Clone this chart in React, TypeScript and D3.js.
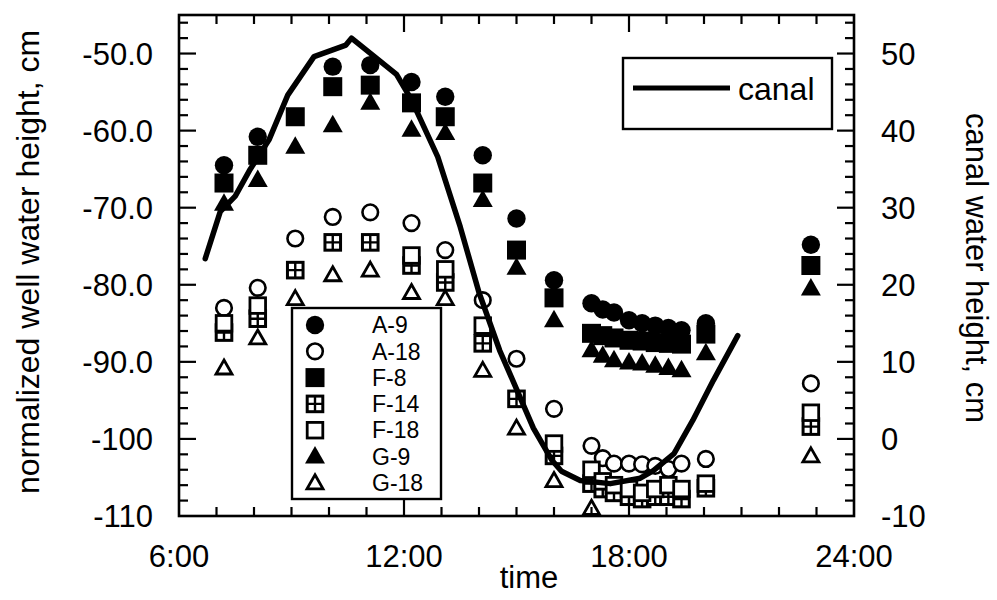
import React from "react";
import * as d3 from "d3";

// observation times (hours)
const hours = [7.2, 8.1, 9.1, 10.1, 11.1, 12.2, 13.1, 14.1, 15.0, 16.0, 17.0, 17.3, 17.6, 18.0, 18.35, 18.7, 19.05, 19.4, 20.05, 22.85];

// normalized well water height, cm (null = not visible)
const a9 = [-64.5, -60.8, null, -51.7, -51.5, -53.7, -55.6, -63.2, -71.4, -79.4, -82.4, -83.2, -83.6, -84.6, -85.0, -85.3, -85.6, -85.9, -85.0, -74.8];
const a18 = [-83.0, -80.4, -74.0, -71.2, -70.6, -72.0, -75.5, -82.0, -89.6, -96.1, -100.9, -102.5, -103.2, -103.2, -103.3, -103.5, -103.9, -103.2, -102.6, -92.8];
const f8 = [-66.8, -63.2, -58.2, -54.3, -54.1, -56.4, -58.2, -66.8, -75.5, -81.7, -86.3, -86.6, -86.9, -87.2, -87.3, -87.5, -87.6, -87.7, -86.4, -77.5];
const f14 = [-86.2, -84.4, -78.1, -74.5, -74.5, -77.5, -79.7, -87.6, -94.8, -102.2, -105.8, -106.5, -107.0, -107.5, -107.8, -107.5, -107.5, -107.8, -106.4, -98.4];
const f18 = [-85.0, -82.7, null, null, null, -76.2, -78.0, -85.3, null, -100.6, -104.0, -105.5, -106.0, -106.5, -107.0, -106.5, -106.0, -106.5, -105.8, -96.6];
const g9 = [-69.5, -66.4, -62.1, -59.3, -56.4, -59.9, -60.3, -69.0, -77.8, -84.6, -88.5, -89.2, -89.8, -90.1, -90.2, -90.5, -90.8, -91.1, -88.9, -80.5];
const g18 = [-90.8, -86.9, -81.8, -78.7, -78.1, -81.0, -81.8, -91.1, -98.6, -105.4, -109.0, null, null, null, null, null, null, null, null, -102.2];

// canal water height, cm
const canalHours = [6.7, 7.1, 7.5, 7.9, 8.4, 8.9, 9.6, 10.45, 10.6, 11.8, 12.2, 12.9, 13.5, 14.0, 14.55, 14.9, 15.45, 15.95, 16.2, 16.7, 17.5, 18.3, 18.65, 19.2, 19.7, 20.25, 20.9];
const canalLevels = [23.4, 29.5, 31.5, 35.0, 38.8, 44.6, 49.6, 51.1, 52.0, 47.3, 44.0, 36.6, 27.5, 19.0, 11.5, 7.6, 1.4, -2.8, -4.2, -5.4, -5.8, -5.1, -4.1, -1.9, 2.4, 7.6, 13.4];

// tick labels
const xTickHours = [6, 12, 18, 24];
const xTickLabels = ["6:00", "12:00", "18:00", "24:00"];
const leftTicks = [-50, -60, -70, -80, -90, -100, -110];
const leftTickLabels = ["-50.0", "-60.0", "-70.0", "-80.0", "-90.0", "-100", "-110"];
const rightTicks = [50, 40, 30, 20, 10, 0, -10];

const series = [
  { name: "A-9", shape: "circle", fill: true, values: a9 },
  { name: "A-18", shape: "circle", fill: false, values: a18 },
  { name: "F-8", shape: "square", fill: true, values: f8 },
  { name: "F-14", shape: "grid", fill: false, values: f14 },
  { name: "F-18", shape: "square", fill: false, values: f18 },
  { name: "G-9", shape: "triangle", fill: true, values: g9 },
  { name: "G-18", shape: "triangle", fill: false, values: g18 },
];

const W = 997;
const H = 600;
const left = 179, right = 854, top = 15, bottom = 516;
const FONT = "'Liberation Sans', Arial, Helvetica, sans-serif";

const x = d3.scaleLinear().domain([6, 24]).range([left, right]);
const yWell = d3.scaleLinear().domain([-110, -45]).range([bottom, top]);
const yCanal = d3.scaleLinear().domain([-10, 55]).range([bottom, top]);

function Marker({ shape, fill, cx, cy }: { shape: string; fill: boolean; cx: number; cy: number }) {
  const t = `translate(${cx},${cy})`;
  if (shape === "circle") {
    return fill
      ? <circle transform={t} r={9.2} fill="#000" />
      : <circle transform={t} r={7.8} fill="#fff" stroke="#000" strokeWidth={2.6} />;
  }
  if (shape === "square") {
    return fill
      ? <rect transform={t} x={-9.5} y={-9.5} width={19} height={19} fill="#000" />
      : <rect transform={t} x={-7.8} y={-7.8} width={15.6} height={15.6} fill="#fff" stroke="#000" strokeWidth={2.8} />;
  }
  if (shape === "grid") {
    return (
      <g transform={t}>
        <rect x={-7.8} y={-7.8} width={15.6} height={15.6} fill="#fff" stroke="#000" strokeWidth={3} />
        <path d="M0,-8V8M-8,0H8" stroke="#000" strokeWidth={2.4} />
      </g>
    );
  }
  return fill
    ? <path transform={t} d="M0,-10.5L10,7L-10,7Z" fill="#000" />
    : <path transform={t} d="M0,-8L8,6L-8,6Z" fill="#fff" stroke="#000" strokeWidth={2.8} strokeLinejoin="miter" />;
}

export default function App() {
  const canalLine = d3.line<number>()
    .x((_, i) => x(canalHours[i]))
    .y((d) => yCanal(d))(canalLevels) || "";

  const hourTicks = d3.range(7, 24);
  const wellMinor = d3.range(-108, -44, 2);
  const canalMinor = d3.range(-8, 56, 2);

  return (
    <svg width={W} height={H} style={{ position: "absolute", left: 0, top: 0, background: "#fff" }} fontFamily={FONT}>
      <rect width={W} height={H} fill="#fff" />

      {/* markers */}
      {series.map((s) => (
        <g key={s.name}>
          {s.values.map((v, i) =>
            v === null ? null : <Marker key={i} shape={s.shape} fill={s.fill} cx={x(hours[i])} cy={yWell(v)} />
          )}
        </g>
      ))}

      {/* canal */}
      <path d={canalLine} fill="none" stroke="#000" strokeWidth={5.5} strokeLinejoin="round" strokeLinecap="round" />

      {/* frame and ticks */}
      <rect x={left} y={top} width={right - left} height={bottom - top} fill="none" stroke="#000" strokeWidth={2.6} />
      <g stroke="#000" strokeWidth={2.2}>
        {hourTicks.map((h) => {
          const len = h % 6 === 0 ? 17 : 9;
          return (
            <g key={h}>
              <line x1={x(h)} x2={x(h)} y1={bottom} y2={bottom - len} />
              <line x1={x(h)} x2={x(h)} y1={top} y2={top + len} />
            </g>
          );
        })}
        {wellMinor.map((v) => (
          <line key={v} x1={left} x2={left + (v % 10 === 0 ? 17 : 9)} y1={yWell(v)} y2={yWell(v)} />
        ))}
        {canalMinor.map((v) => (
          <line key={v} x1={right} x2={right - (v % 10 === 0 ? 17 : 9)} y1={yCanal(v)} y2={yCanal(v)} />
        ))}
      </g>

      {/* tick labels */}
      <g fontSize={31} fill="#000">
        {xTickHours.map((h, i) => (
          <text key={h} x={x(h)} y={567} textAnchor="middle">{xTickLabels[i]}</text>
        ))}
        {leftTicks.map((v, i) => (
          <text key={v} x={153} y={yWell(v)} dy="0.36em" textAnchor="end">{leftTickLabels[i]}</text>
        ))}
        {rightTicks.map((v) => (
          <text key={v} x={881} y={yCanal(v)} dy="0.36em" textAnchor="start">{v}</text>
        ))}
      </g>

      {/* axis titles */}
      <text x={529} y={588} fontSize={31} textAnchor="middle">time</text>
      <text transform="translate(39,262) rotate(-90)" fontSize={32} textAnchor="middle">normalized well water height, cm</text>
      <text transform="translate(966,268) rotate(90)" fontSize={31} textAnchor="middle">canal water height, cm</text>

      {/* well legend */}
      <rect x={292} y={308} width={149} height={191} fill="#fff" stroke="#000" strokeWidth={2.4} />
      {series.map((s, i) => {
        const ly = 325 + i * 26.3;
        return (
          <g key={s.name}>
            <Marker shape={s.shape} fill={s.fill} cx={315} cy={ly} />
            <text x={372} y={ly} dy="0.36em" fontSize={23}>{s.name}</text>
          </g>
        );
      })}

      {/* canal legend */}
      <rect x={623} y={58} width={209} height={71} fill="#fff" stroke="#000" strokeWidth={2.4} />
      <line x1={633} x2={730} y1={88} y2={88} stroke="#000" strokeWidth={5} />
      <text x={738} y={100} fontSize={32}>canal</text>
    </svg>
  );
}
